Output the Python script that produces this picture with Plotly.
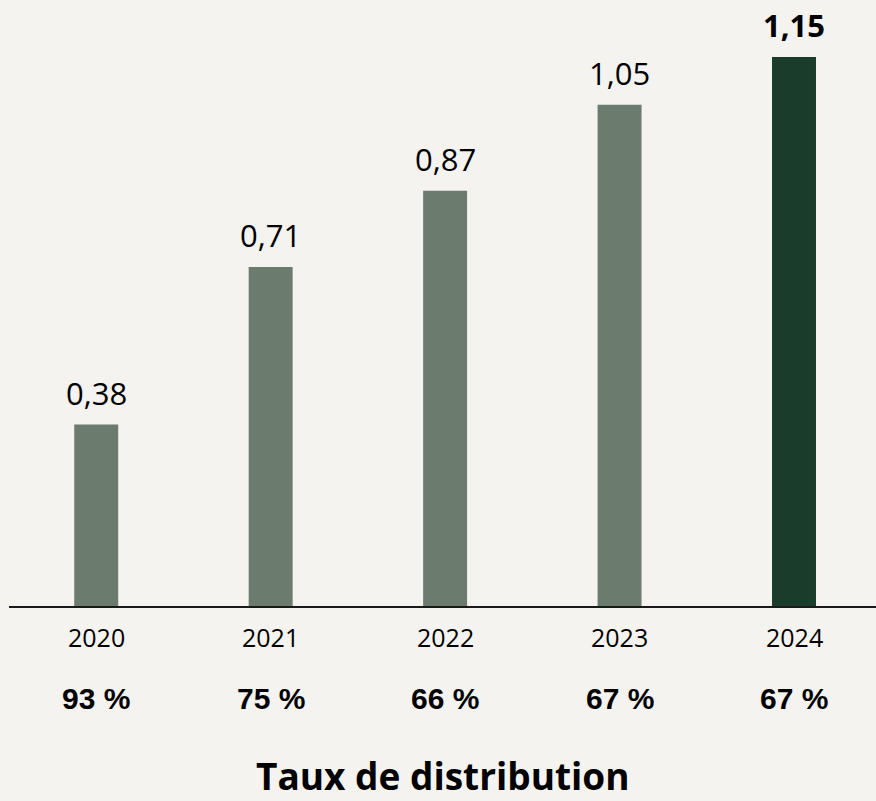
import plotly.graph_objects as go

years = ["2020", "2021", "2022", "2023", "2024"]
dividends = [0.38, 0.71, 0.87, 1.05, 1.15]
value_labels = ["0,38", "0,71", "0,87", "1,05", "1,15"]
payout_labels = ["93 %", "75 %", "66 %", "67 %", "67 %"]
title_text = "Taux de distribution"

BG = "#f4f3ef"
LIGHT = "#6b7b6e"
DARK = "#1a3c2b"
colors = [LIGHT, LIGHT, LIGHT, LIGHT, DARK]

fig = go.Figure()
fig.add_trace(go.Bar(
    x=years, y=dividends, marker=dict(color=colors, line=dict(width=0)),
    width=0.252, hoverinfo="skip",
))

annotations = []
for i, (yr, v, lab, pct) in enumerate(zip(years, dividends, value_labels, payout_labels)):
    bold = i == len(years) - 1
    annotations.append(dict(
        x=i, y=v, xref="x", yref="y", text=("<b>%s</b>" % lab) if bold else lab,
        showarrow=False, yanchor="middle", xanchor="center", yshift=32,
        font=dict(family="Open Sans", size=31, color="#000000"),
    ))
    annotations.append(dict(
        x=i, y=0, xref="x", yref="y", text=yr,
        showarrow=False, yanchor="middle", xanchor="center", yshift=-31,
        font=dict(family="Open Sans", size=25, color="#000000"),
    ))
    annotations.append(dict(
        x=i, y=0, xref="x", yref="y", text="<b>%s</b>" % pct,
        showarrow=False, yanchor="middle", xanchor="center", yshift=-92,
        font=dict(family="Liberation Sans, Arial", size=30, color="#000000"),
    ))

annotations.append(dict(
    x=2, y=0, xref="x", yref="y", text="<b>%s</b>" % title_text,
    showarrow=False, yanchor="middle", xanchor="center", yshift=-169, xshift=-2,
    font=dict(family="Open Sans", size=37, color="#000000"),
))

fig.update_layout(
    width=876, height=801,
    margin=dict(l=9, r=0, t=0, b=195, pad=0),
    paper_bgcolor=BG, plot_bgcolor=BG,
    showlegend=False,
    xaxis=dict(type="category", range=[-0.5, 4.47], showgrid=False, zeroline=False,
               showline=True, linecolor="#1a1a1a", linewidth=2,
               showticklabels=False, ticks=""),
    yaxis=dict(range=[0, 1.2694], visible=False, showgrid=False, zeroline=False),
    annotations=annotations,
)

fig.write_html("out.html", config={"displayModeBar": False},
               post_script="document.body.style.margin='0';document.body.style.background='%s';" % BG)
